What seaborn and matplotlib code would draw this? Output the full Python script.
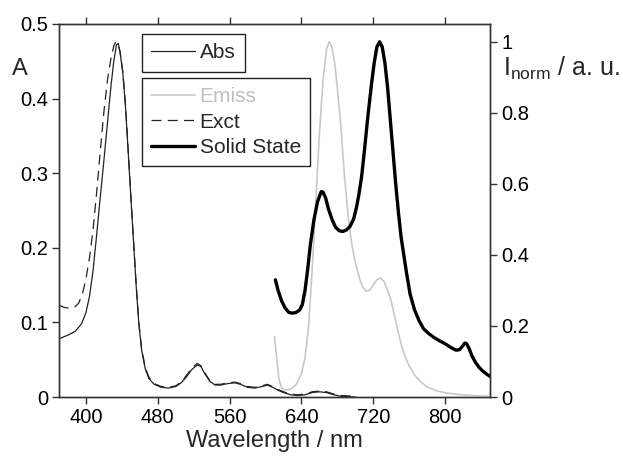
import matplotlib
matplotlib.use("Agg")
import matplotlib.pyplot as plt
import seaborn as sns

# Absorbance (left axis)
abs_nm = [370, 380, 388, 395, 400, 404, 408, 412, 416, 420, 424, 428, 431, 434, 436, 438, 441, 444,
          447, 450, 453, 456, 459, 462, 466, 470, 476, 484, 492, 500, 506, 512, 518, 524, 528, 532,
          538, 544, 550, 558, 566, 572, 580, 588, 596, 602, 608, 614, 620, 628, 636, 644, 652, 660,
          668, 676, 684, 700]
abs_val = [0.078, 0.083, 0.088, 0.098, 0.113, 0.135, 0.170, 0.218, 0.268, 0.317, 0.368, 0.418, 0.450,
           0.472, 0.474, 0.462, 0.435, 0.390, 0.330, 0.268, 0.208, 0.148, 0.097, 0.063, 0.038, 0.025,
           0.017, 0.013, 0.012, 0.014, 0.019, 0.027, 0.037, 0.043, 0.041, 0.032, 0.021, 0.016, 0.016,
           0.018, 0.019, 0.017, 0.013, 0.012, 0.014, 0.016, 0.013, 0.009, 0.006, 0.003, 0.002, 0.003,
           0.006, 0.007, 0.006, 0.003, 0.001, 0.0]

# Excitation (left axis)
exct_nm = [370, 376, 382, 388, 392, 396, 400, 404, 408, 412, 416, 420, 424, 428, 431, 433, 436, 438,
           441, 444, 447, 450, 453, 456, 459, 462, 466, 470, 476, 484, 492, 500, 506, 512, 518, 524,
           528, 532, 538, 544, 550, 558, 566, 572, 580, 588, 596, 602, 608, 614, 620, 628, 636, 644,
           652, 660, 668, 676, 684, 700]
exct_val = [0.123, 0.120, 0.119, 0.121, 0.126, 0.138, 0.158, 0.187, 0.225, 0.275, 0.330, 0.382, 0.425,
            0.455, 0.470, 0.476, 0.472, 0.463, 0.437, 0.393, 0.333, 0.270, 0.210, 0.150, 0.099, 0.065,
            0.040, 0.027, 0.018, 0.014, 0.013, 0.015, 0.020, 0.029, 0.039, 0.045, 0.042, 0.033, 0.022,
            0.017, 0.017, 0.019, 0.020, 0.018, 0.014, 0.013, 0.015, 0.017, 0.014, 0.010, 0.007, 0.004,
            0.003, 0.004, 0.007, 0.008, 0.007, 0.004, 0.002, 0.001]

# Emission, normalised (right axis)
emiss_nm = [610, 612, 615, 618, 622, 628, 634, 640, 644, 648, 652, 656, 660, 664, 668, 671, 674, 677,
            680, 684, 688, 692, 696, 700, 704, 708, 712, 716, 720, 724, 728, 732, 736, 740, 744, 748,
            752, 756, 760, 766, 772, 780, 790, 800, 815, 830, 850]
emiss_val = [0.17, 0.12, 0.05, 0.025, 0.02, 0.022, 0.035, 0.065, 0.11, 0.20, 0.36, 0.55, 0.74, 0.89,
             0.98, 1.0, 0.985, 0.94, 0.87, 0.76, 0.62, 0.51, 0.43, 0.38, 0.34, 0.31, 0.298, 0.300,
             0.315, 0.33, 0.335, 0.325, 0.30, 0.27, 0.225, 0.18, 0.14, 0.11, 0.088, 0.062, 0.045,
             0.028, 0.018, 0.012, 0.007, 0.004, 0.002]

# Solid state emission, normalised (right axis)
solid_nm = [611, 614, 618, 622, 626, 630, 634, 638, 641, 644, 647, 650, 654, 658, 662, 664, 667, 670,
            674, 678, 682, 686, 690, 694, 698, 701, 704, 707, 710, 714, 718, 721, 724, 727, 730, 733,
            736, 739, 742, 745, 748, 751, 754, 757, 761, 766, 771, 776, 782, 788, 794, 800, 806, 812,
            816, 819, 822, 824, 827, 830, 834, 838, 842, 846, 850]
solid_val = [0.33, 0.30, 0.27, 0.25, 0.238, 0.236, 0.238, 0.245, 0.26, 0.30, 0.36, 0.43, 0.50, 0.55,
             0.578, 0.577, 0.56, 0.53, 0.50, 0.478, 0.468, 0.466, 0.47, 0.48, 0.50, 0.53, 0.57, 0.62,
             0.69, 0.79, 0.88, 0.94, 0.985, 1.0, 0.985, 0.94, 0.87, 0.78, 0.69, 0.60, 0.52, 0.45, 0.40,
             0.35, 0.29, 0.245, 0.215, 0.192, 0.178, 0.167, 0.158, 0.150, 0.140, 0.132, 0.133, 0.142,
             0.152, 0.15, 0.135, 0.115, 0.097, 0.083, 0.073, 0.065, 0.058]

x_ticks = [400, 480, 560, 640, 720, 800]
left_ticks = [0, 0.1, 0.2, 0.3, 0.4, 0.5]
left_tick_labels = ["0", "0.1", "0.2", "0.3", "0.4", "0.5"]
right_ticks = [0, 0.2, 0.4, 0.6, 0.8, 1.0]
right_tick_labels = ["0", "0.2", "0.4", "0.6", "0.8", "1"]

sns.set_theme(style="ticks")
plt.rcParams["font.family"] = ["Liberation Sans", "DejaVu Sans"]
plt.rcParams["mathtext.fontset"] = "custom"
plt.rcParams["mathtext.rm"] = "Liberation Sans"
plt.rcParams["mathtext.it"] = "Liberation Sans"

axis_col = "#333333"
fig = plt.figure(figsize=(6.23, 4.61), dpi=100)
ax = fig.add_axes([0.0947, 0.1388, 0.6918, 0.8092])
ax2 = ax.twinx()

sns.lineplot(x=abs_nm, y=abs_val, ax=ax, color="#222222", linewidth=0.9, label="Abs")
sns.lineplot(x=exct_nm, y=exct_val, ax=ax, color="#222222", linewidth=0.9,
             linestyle=(0, (8, 5)), label="Exct")
sns.lineplot(x=emiss_nm, y=emiss_val, ax=ax2, color="#c8c8c8", linewidth=1.2, label="Emiss")
sns.lineplot(x=solid_nm, y=solid_val, ax=ax2, color="black", linewidth=2.4, label="Solid State")

ax.set_xlim(370, 850)
ax.set_ylim(0, 0.5)
ax2.set_ylim(0, 1.05)

ax.set_xticks(x_ticks)
ax.set_xticklabels([str(t) for t in x_ticks])
ax.set_yticks(left_ticks)
ax.set_yticklabels(left_tick_labels)
ax2.set_yticks(right_ticks)
ax2.set_yticklabels(right_tick_labels)

for a in (ax, ax2):
    for s in a.spines.values():
        s.set_color(axis_col)
        s.set_linewidth(1.0)
    a.tick_params(colors=axis_col, labelcolor="black", labelsize=14.5, width=1.0, length=5,
                  direction="out", pad=3)
    a.grid(False)
ax.tick_params(axis="x", top=True, labeltop=False)

ax.set_xlabel("Wavelength / nm", fontsize=17, labelpad=2)
ax.set_ylabel("")
ax2.set_ylabel("")
fig.text(0.019, 0.838, "A", fontsize=17, ha="left", va="baseline")
fig.text(0.808, 0.835, r"I$_{\rm norm}$ / a. u.", fontsize=18, ha="left", va="baseline")

abs_line, exct_line = ax.get_lines()[:2]
emiss_line, solid_line = ax2.get_lines()[:2]

leg_kw = dict(fontsize=15, frameon=True, fancybox=False, edgecolor="#222222", framealpha=1,
              handlelength=2.07, handletextpad=0.25, borderpad=0.45, labelspacing=0.3,
              borderaxespad=0, loc="upper left")
leg1 = ax.legend([abs_line], ["Abs"], bbox_to_anchor=(142 / 623, 1 - 34 / 461),
                 bbox_transform=fig.transFigure, **leg_kw)
leg1.get_frame().set_linewidth(1.0)
leg2 = ax2.legend([emiss_line, exct_line, solid_line], ["Emiss", "Exct", "Solid State"],
                  bbox_to_anchor=(142 / 623, 1 - 78 / 461), bbox_transform=fig.transFigure, **leg_kw)
leg2.get_frame().set_linewidth(1.0)
leg2.get_texts()[0].set_color("#c0c0c0")

fig.savefig("out.png", dpi=100)
